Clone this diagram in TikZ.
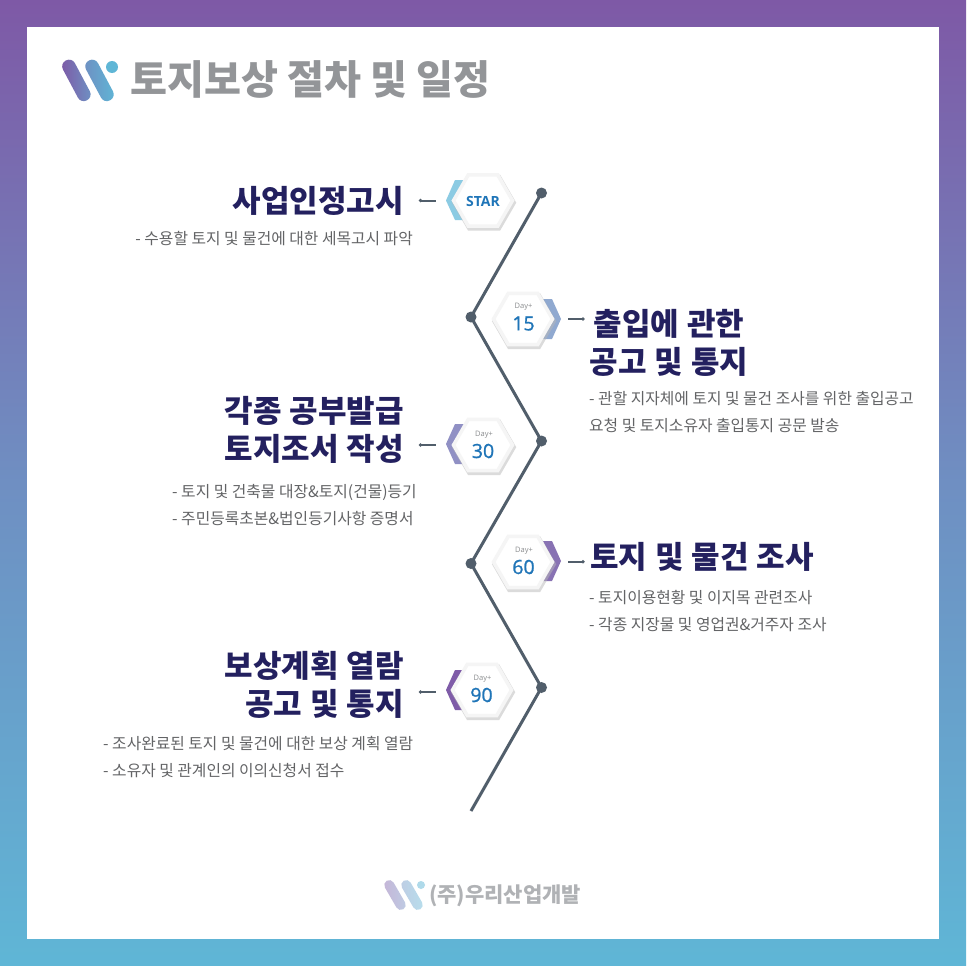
\documentclass[tikz,border=0pt]{standalone}
\usepackage{fontspec}
\setmainfont{Noto Sans CJK KR}
\newfontfamily\latinfont{Open Sans}
\newfontfamily\numfont[FakeBold=1.2]{Open Sans}
\usetikzlibrary{arrows.meta,shapes.geometric,shadows,calc}
\newcommand{\headfont}{\fontsize{31}{38}\selectfont\bfseries\spaceskip=0.26em\relax}
\definecolor{linegray}{HTML}{515E6B}
\definecolor{headnavy}{HTML}{23205F}
\definecolor{bodygray}{HTML}{636466}
\definecolor{titlegray}{HTML}{939598}
\definecolor{footgray}{HTML}{B0B2B5}
\definecolor{daygray}{HTML}{8A8C8E}
\definecolor{numblue}{HTML}{1F75B8}
\definecolor{bgtop}{HTML}{7E59A6}
\definecolor{bgmid}{HTML}{6F8FC2}
\definecolor{bgbot}{HTML}{5FB6D6}
\definecolor{chevstar}{HTML}{8CCBE3}
\definecolor{chevb}{HTML}{90A9D0}
\definecolor{chevc}{HTML}{9090C4}
\definecolor{chevd}{HTML}{8872B3}
\definecolor{cheve}{HTML}{7F5CA8}
\begin{document}
\begin{tikzpicture}[x=1pt,y=-1pt]
\tikzstyle{joint}=[draw=none,fill=linegray,shape=circle,inner sep=0pt,minimum size=11pt]
\tikzstyle{zigzag}=[draw=linegray,line width=3pt]
\tikzstyle{tick}=[draw=linegray,line width=2pt,{Circle[length=3pt]}-]
\tikzstyle{hexagon}=[shape=regular polygon,regular polygon sides=6,inner sep=0pt,minimum size=59pt,fill=white,draw=black!4,line width=3.5pt,drop shadow={shadow scale=1.09,shadow xshift=1pt,shadow yshift=-2pt,opacity=.5,fill=black!28}]
\tikzstyle{head}=[text=headnavy,font=\headfont,inner sep=0pt]
\tikzstyle{body}=[text=bodygray,font=\fontsize{15.8}{27}\selectfont,inner sep=0pt]
\tikzstyle{daytext}=[text=daygray,font=\latinfont\fontsize{7.5}{8}\selectfont,inner sep=0pt]
\tikzstyle{daynum}=[text=numblue,font=\numfont\fontsize{19.5}{20}\selectfont,inner sep=0pt]
\tikzstyle{logostroke}=[shape=rectangle,rounded corners=6.5pt,minimum width=45pt,minimum height=13.5pt,inner sep=0pt]
\tikzstyle{footstroke}=[shape=rectangle,rounded corners=5pt,minimum width=33pt,minimum height=10pt,inner sep=0pt]
\useasboundingbox (0,0) rectangle (966,966);
% background
\shade[top color=bgtop,bottom color=bgbot,middle color=bgmid] (0,0) rectangle (966,966);
\fill[white] (27,27) rectangle (939,939);
% title
\node[logostroke,rotate=-62,left color=bgtop,right color=bgmid!90!bgbot] (logoa) at (76.4,80.4) {};
\node[logostroke,rotate=-62,left color=bgmid,right color=bgbot] (logob) at (99.5,80.4) {};
\node[shape=circle,fill=bgbot,inner sep=0pt,minimum size=12pt] (logoc) at (112,67) {};
\node[anchor=west,text=titlegray,font=\fontsize{40.2}{40}\selectfont\bfseries,inner sep=0pt] (title) at (130,80) {토지보상 절차 및 일정};
% zigzag
\path (541.5,193) node[joint](p1){} (471,317) node[joint](p2){} (541.5,441) node[joint](p3){}
 (471,563.5) node[joint](p4){} (541.5,687.5) node[joint](p5){};
\coordinate (p6) at (471,811);
\draw[zigzag] (p1.center) -- (p2.center) -- (p3.center) -- (p4.center) -- (p5.center) -- (p6);
% chevrons
\fill[fill=chevstar] (465,180) -- (455,180) -- (446,200.5) -- (455,220) -- (465,220) -- (455,200.5) -- cycle;
\fill[fill=chevb] (543,299) -- (552,299) -- (561,319) -- (552,339) -- (543,339) -- (553,319) -- cycle;
\fill[fill=chevc] (465,424) -- (455,424) -- (446,444) -- (455,464) -- (465,464) -- (455,444) -- cycle;
\fill[fill=chevd] (543,541) -- (552,541) -- (561,561) -- (552,581) -- (543,581) -- (553,561) -- cycle;
\fill[fill=cheve] (465,670) -- (455,670) -- (446,690) -- (455,710) -- (465,710) -- (455,690) -- cycle;
% hexagons
\node[hexagon] (hexa) at (483,200.5) {};
\node[hexagon] (hexb) at (523,319) {};
\node[hexagon] (hexc) at (483,445) {};
\node[hexagon] (hexd) at (523,562) {};
\node[hexagon] (hexe) at (482,690) {};
\node[text=numblue,font=\latinfont\fontsize{14}{14}\selectfont\bfseries,inner sep=0pt] (start) at (483,201) {STAR};
\node[daytext] (dayb) at (523.5,307) {Day+};
\node[daynum] (numb) at (523.5,323.5) {15};
\node[daytext] (dayc) at (484,434.5) {Day+};
\node[daynum] (numc) at (483,451) {30};
\node[daytext] (dayd) at (524,551) {Day+};
\node[daynum] (numd) at (523.5,567) {60};
\node[daytext] (daye) at (482.5,679) {Day+};
\node[daynum] (nume) at (481.5,695) {90};
% ticks
\coordinate (ta) at (419,200.5); \coordinate (ua) at (436,200.5);
\coordinate (tb) at (584.5,319); \coordinate (ub) at (568,319);
\coordinate (tc) at (419,445); \coordinate (uc) at (436,445);
\coordinate (td) at (584.5,561.7); \coordinate (ud) at (568,561.7);
\coordinate (te) at (419,692); \coordinate (ue) at (436,692);
\draw[tick] (ta) -- (ua);
\draw[tick] (tb) -- (ub);
\draw[tick] (tc) -- (uc);
\draw[tick] (td) -- (ud);
\draw[tick] (te) -- (ue);
% left blocks
\node[head,anchor=east] (heada) at (404,201) {사업인정고시};
\node[body,anchor=east] (bodya) at (413,238.5) {- 수용할 토지 및 물건에 대한 세목고시 파악};
\node[head,anchor=east,align=right] (headc) at (404,430) {각종 공부발급\\토지조서 작성};
\node[body,anchor=north west,align=left] (bodyc) at (172,484.5) {- 토지 및 건축물 대장\&토지(건물)등기\\- 주민등록초본\&법인등기사항 증명서};
\node[head,anchor=east,align=right] (heade) at (404,684.5) {보상계획 열람\\공고 및 통지};
\node[body,anchor=north west,align=left] (bodye) at (103,736.5) {- 조사완료된 토지 및 물건에 대한 보상 계획 열람\\- 소유자 및 관계인의 이의신청서 접수};
% right blocks
\node[head,align=center] (headb) at (669,342.5) {출입에 관한\\공고 및 통지};
\node[body,anchor=north west,align=left] (bodyb) at (589,391.5) {- 관할 지자체에 토지 및 물건 조사를 위한 출입공고\\요청 및 토지소유자 출입통지 공문 발송};
\node[head,anchor=west] (headd) at (590,557) {토지 및 물건 조사};
\node[body,anchor=north west,align=left] (bodyd) at (589,590.5) {- 토지이용현황 및 이지목 관련조사\\- 각종 지장물 및 영업권\&거주자 조사};
% footer
\node[footstroke,rotate=-60,left color=bgtop!45!white,right color=bgmid!45!white] (foota) at (395,895) {};
\node[footstroke,rotate=-60,left color=bgmid!45!white,right color=bgbot!45!white] (footb) at (412,895) {};
\node[shape=circle,fill=bgbot!50!white,inner sep=0pt,minimum size=8pt] (footc) at (421,885) {};
\node[anchor=west,text=footgray,font=\fontsize{21}{21}\selectfont\bfseries,inner sep=0pt] (foot) at (429,896) {(주)우리산업개발};
\end{tikzpicture}
\end{document}
